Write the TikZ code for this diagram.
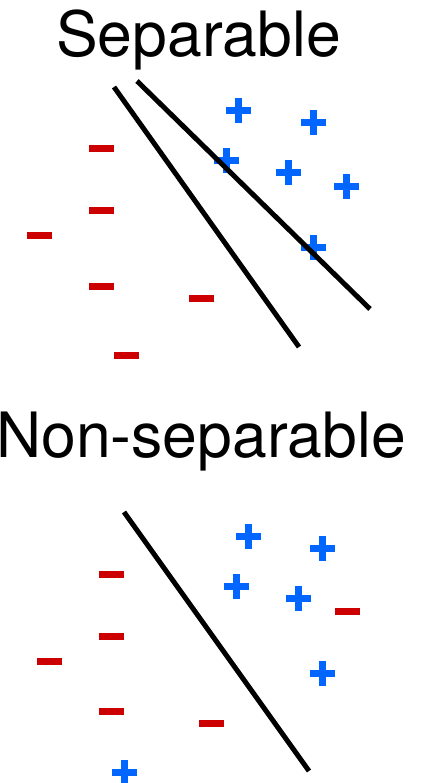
\documentclass[tikz,border=0pt]{standalone}
\usepackage{fontspec}
\setmainfont{TeX Gyre Heros}
\definecolor{pblue}{RGB}{0,102,255}
\definecolor{nred}{RGB}{204,0,0}
\tikzset{
  posmark/.pic={\fill[pblue] (-12.5,-3.5) rectangle (12.5,3.5);
                \fill[pblue] (-3.5,-12.5) rectangle (3.5,12.5);},
  negmark/.pic={\fill[nred] (-12.5,-3.5) rectangle (12.5,3.5);},
  sepline/.style={line width=5pt, black},
  title/.style={inner sep=0pt, anchor=base west, font=\fontsize{62.5}{62.5}\selectfont}
}
\begin{document}
\begin{tikzpicture}[x={(1pt,0pt)}, y={(0pt,-1pt)}]
\useasboundingbox (0,0) rectangle (423,783);
% titles
\node[title] (t1) at (56,57) {Separable};
\node[title] (t2) at (-4,457) {Non-separable};
% top panel marks
\foreach \p/\q in {238/111, 313/123, 226/161, 288/173, 346/187, 313/248}
  \pic at (\p,\q) {posmark};
\foreach \p/\q in {101/149, 101/211, 39/236, 101/286, 201/298, 126/355}
  \pic at (\p,\q) {negmark};
% bottom panel marks
\foreach \p/\q in {248/536, 322/548, 236/586, 298/598, 322/673, 124/772}
  \pic at (\p,\q) {posmark};
\foreach \p/\q in {111/574, 111/636, 49/661, 111/711, 211/723, 347/611}
  \pic at (\p,\q) {negmark};
% separating lines
\coordinate (a1) at (114,87);
\coordinate (a2) at (299,347);
\coordinate (b1) at (137,81);
\coordinate (b2) at (370,309);
\coordinate (c1) at (124,512);
\coordinate (c2) at (309,771);
\draw[sepline] (a1) -- (a2);
\draw[sepline] (b1) -- (b2);
\draw[sepline] (c1) -- (c2);
\end{tikzpicture}
\end{document}
